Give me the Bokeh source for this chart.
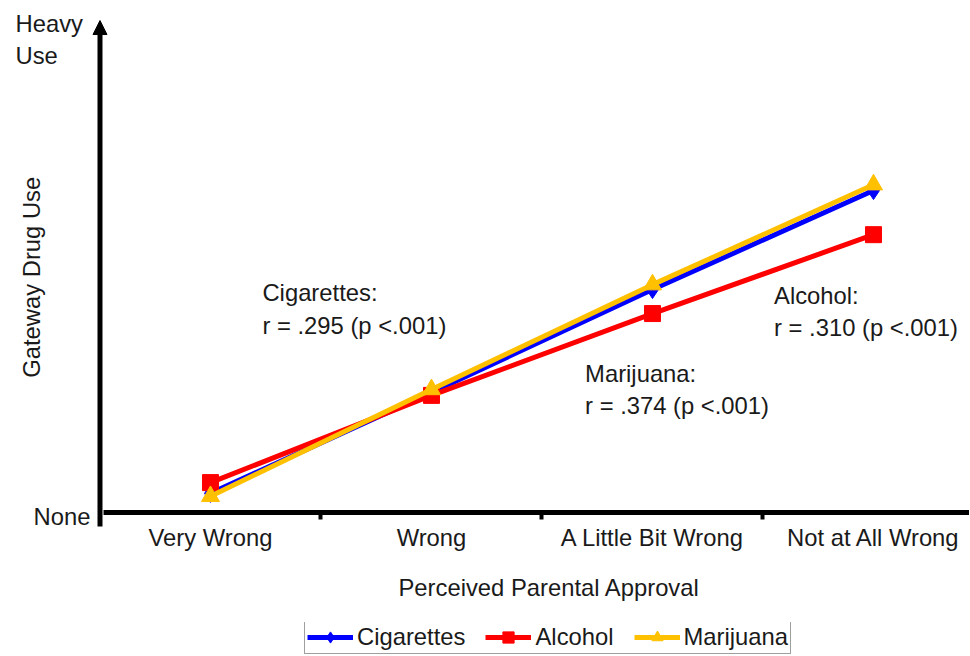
import math
from bokeh.plotting import figure
from bokeh.layouts import column
from bokeh.models import (Range1d, FixedTicker, Legend, LegendItem, Label,
                          Arrow, NormalHead, Title)
from bokeh.embed import file_html
from bokeh.resources import INLINE

# ---- data -------------------------------------------------------------
categories = ["Very Wrong", "Wrong", "A Little Bit Wrong", "Not at All Wrong"]
series_names = ["Cigarettes", "Alcohol", "Marijuana"]
cigarettes = [3.9, 24.5, 45.5, 65.7]
alcohol = [6.1, 23.9, 40.6, 56.7]
marijuana = [3.3, 25.1, 46.5, 66.9]
y_low_label = "None"
y_high_label = "Heavy\nUse"
note_texts = ["Cigarettes:\nr = .295 (p <.001)",
              "Alcohol:\nr = .310 (p <.001)",
              "Marijuana:\nr = .374 (p <.001)"]
x_title = "Perceived Parental Approval"
y_title = "Gateway Drug Use"

# ---- styling ------------------------------------------------------------
FONT = "Liberation Sans"
FS = "23.8px"
TXT = "#1a1a1a"
colors = ["#0000FF", "#FF0000", "#FFC000"]
markers = ["diamond", "square", "triangle"]
msizes = [18, 16, 18]

x_idx = list(range(len(categories)))
X0, X1 = -0.9502, 3.4344
Y0, Y1 = -4.0816, 104.49
Y_ARROW = 100.4
AXIS_X = -0.5
series_vals = [cigarettes, alcohol, marijuana]

p = figure(width=969, height=622, output_backend="svg",
           toolbar_location=None, y_axis_location=None,
           x_range=Range1d(X0, X1), y_range=Range1d(Y0, Y1),
           min_border_left=0, min_border_right=0, min_border_top=0,
           min_border_bottom=90, outline_line_color=None,
           background_fill_color="white", border_fill_color="white")
p.grid.visible = False

# x axis (labels + boundary ticks; line drawn separately)
xa = p.xaxis[0]
xa.ticker = FixedTicker(ticks=x_idx, minor_ticks=[i + 0.5 for i in x_idx[:-1]])
xa.major_label_overrides = {i: c for i, c in zip(x_idx, categories)}
xa.axis_line_color = None
xa.major_tick_line_color = None
xa.major_tick_out = 0
xa.major_tick_in = 0
xa.minor_tick_line_color = "black"
xa.minor_tick_line_width = 4
xa.minor_tick_out = -13
xa.minor_tick_in = 20
xa.major_label_standoff = -9
xa.major_label_text_font = FONT
xa.major_label_text_font_size = FS
xa.major_label_text_color = TXT

# x axis title
p.add_layout(Title(text=x_title, align="left", offset=398, standoff=36,
                   text_font=FONT, text_font_size=FS, text_font_style="normal",
                   text_color=TXT), "below")

# axis lines
p.add_layout(Arrow(end=None, x_start=AXIS_X + 0.016, y_start=0, x_end=X1, y_end=0,
                   line_color="black", line_width=5))
p.add_layout(Arrow(end=NormalHead(size=14, fill_color="black", line_color="black", line_width=1),
                   x_start=AXIS_X, y_start=-2.86, x_end=AXIS_X, y_end=Y_ARROW,
                   line_color="black", line_width=5))

# series
for vals, col, mk, ms in zip(series_vals, colors, markers, msizes):
    p.line(x_idx, vals, line_color=col, line_width=5)
    p.scatter(x_idx, vals, marker=mk, size=ms, fill_color=col, line_color=col)

# y-axis texts
p.add_layout(Label(x=AXIS_X, y=0, x_offset=-9.5, y_offset=-4, text=y_low_label,
                   text_align="right", text_baseline="middle", text_font=FONT,
                   text_font_size=FS, text_color=TXT))
p.add_layout(Label(x=AXIS_X, y=Y_ARROW, x_offset=-84.5, y_offset=11, text=y_high_label,
                   text_align="left", text_baseline="top", text_font=FONT,
                   text_font_size=FS, text_color=TXT))
p.add_layout(Label(x=AXIS_X, y=48.0, x_offset=-68.5, text=y_title, angle=math.pi / 2,
                   text_align="center", text_baseline="middle", text_font=FONT,
                   text_font_size=FS, text_color=TXT))

# correlation notes
note_pos = [(0.235, 47.6), (2.55, 47.1), (1.695, 31.2)]
for t, (nx, ny) in zip(note_texts, note_pos):
    p.add_layout(Label(x=nx, y=ny, text=t, text_align="left", text_baseline="top",
                       text_font=FONT, text_font_size=FS, text_color=TXT))

# ---- legend strip (same series, legend only) ---------------------------
lg = figure(width=969, height=34, output_backend="svg", toolbar_location=None,
            x_axis_location=None, y_axis_location=None,
            x_range=Range1d(100, 101), y_range=Range1d(1000, 1001),
            min_border_left=0, min_border_right=0, min_border_top=0,
            min_border_bottom=0, outline_line_color=None,
            background_fill_color="white", border_fill_color="white")
lg.grid.visible = False
items = []
for name, vals, col, mk, ms in zip(series_names, series_vals, colors, markers, msizes):
    r1 = lg.line(x_idx, vals, line_color=col, line_width=5)
    r2 = lg.scatter(x_idx, vals, marker=mk, size=ms, fill_color=col, line_color=col)
    items.append(LegendItem(label=name, renderers=[r1, r2]))
legend = Legend(items=items, orientation="horizontal", location=(304, 2),
                label_text_font=FONT, label_text_font_size=FS, label_text_color=TXT,
                glyph_width=46, glyph_height=28, label_standoff=4, spacing=20,
                padding=2, margin=0, border_line_color="#404040", border_line_width=1,
                background_fill_color="white")
lg.add_layout(legend)

layout = column(p, lg, spacing=0)
open("out.html", "w").write(file_html(layout, INLINE))
